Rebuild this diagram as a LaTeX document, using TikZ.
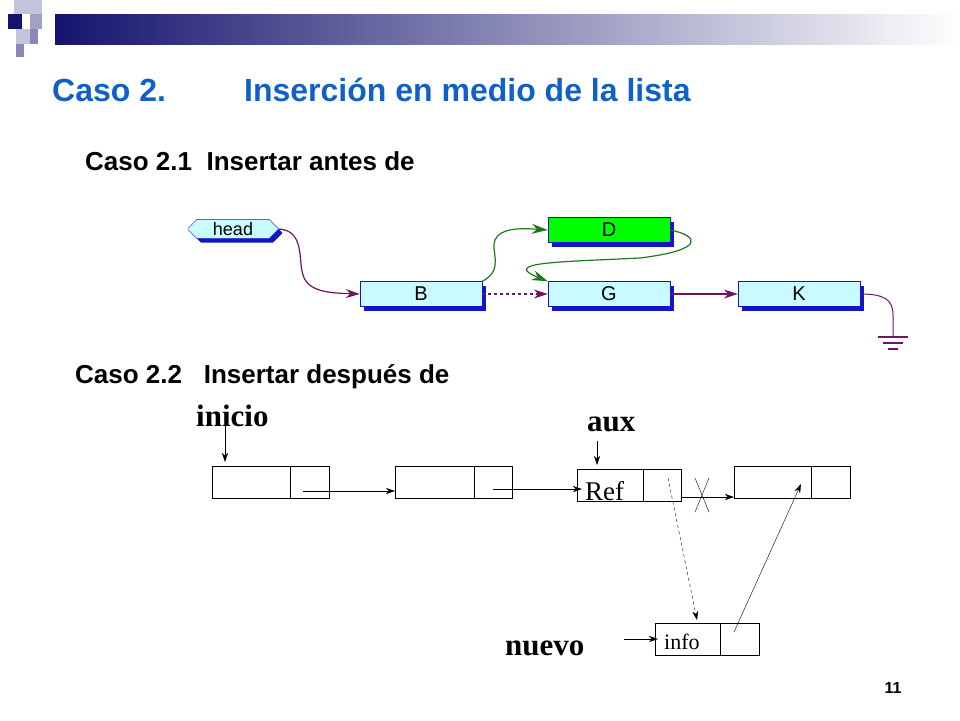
\documentclass[tikz,border=0pt]{standalone}
\usepackage{fontspec}
\setmainfont{Liberation Serif}
\setsansfont{Liberation Sans}
\usetikzlibrary{arrows.meta,shapes.misc,shadows}
\definecolor{ttl}{RGB}{16,96,200}
\definecolor{navy}{RGB}{20,20,110}
\definecolor{cy}{RGB}{200,250,255}
\definecolor{bl}{RGB}{20,20,200}
\definecolor{pur}{RGB}{110,20,100}
\definecolor{gr}{RGB}{30,120,30}
\begin{document}
\begin{tikzpicture}[x=1pt,y=-1pt,
  lbox/.style={draw=bl,fill=cy,minimum width=122pt,minimum height=25pt,inner sep=0pt,font=\sffamily\fontsize{20}{20}\selectfont,
     drop shadow={shadow xshift=4pt,shadow yshift=-4pt,fill=bl,opacity=1}},
  cell/.style={draw,line width=0.8pt,inner sep=0pt,anchor=north west},
  ar/.style={-{Stealth[length=9pt,width=6pt]}},
  pa/.style={pur,line width=1.2pt,-{Stealth[length=14pt,width=9pt]}},
  ga/.style={gr,line width=1.2pt,-{Stealth[length=16pt,width=10pt]}},
  lab/.style={font=\bfseries\fontsize{31}{31}\selectfont,anchor=west,inner sep=0pt}]
\useasboundingbox (0,0) rectangle (960,720);
% header
\shade[left color=navy,right color=white] (55,14) rectangle (960,44);
\fill[navy!25] (14,0) rectangle (28,14);
\fill[navy!25] (28,0) rectangle (42,14);
\fill[navy] (8,14) rectangle (22,29);
\fill[navy!40] (30,14) rectangle (42,29);
\fill[navy!25] (16,29) rectangle (30,44);
\fill[navy!50] (30,29) rectangle (38,44);
\fill[navy!50] (16,44) rectangle (24,57);
% titles
\node[anchor=west,inner sep=0pt,text=ttl,font=\sffamily\bfseries\fontsize{32}{32}\selectfont] (t1) at (52,90) {Caso 2.};
\node[anchor=west,inner sep=0pt,text=ttl,font=\sffamily\bfseries\fontsize{32}{32}\selectfont] (t2) at (244,90) {Inserción en medio de la lista};
\node[anchor=west,inner sep=0pt,font=\sffamily\bfseries\fontsize{26}{26}\selectfont] (s1) at (85,161) {Caso 2.1\ \ Insertar antes de};
\node[anchor=west,inner sep=0pt,font=\sffamily\bfseries\fontsize{26}{26}\selectfont] (s2) at (75,377) {Caso 2.2\ \ \ Insertar después de};
% upper diagram
\node[lbox,chamfered rectangle,chamfered rectangle xsep=6pt,minimum width=90pt,minimum height=18pt,font=\sffamily\fontsize{18}{18}\selectfont] (head) at (233,229) {head};
\node[lbox] (B) at (421,294) {B};
\node[lbox] (G) at (609,294) {G};
\node[lbox] (K) at (799,294) {K};
\node[lbox,fill=green] (D) at (609,230) {D};
\draw[pa] (head.east) .. controls (305,230) and (298,260) .. (303,275) .. controls (308,292) and (330,293) .. (B.west);
\draw[pa,dashed] (B.east) -- (G.west);
\draw[pa] (G.east) -- (K.west);
\coordinate (gnd) at (893,337);
\draw[pur,line width=1pt] (K.east) .. controls (885,294) and (893,300) .. (893,315) -- (gnd);
\draw[pur,line width=1.5pt] (878,337) -- (908,337) (883,343) -- (903,343) (888,349) -- (898,349);
\draw[ga] (B.north east) .. controls (505,270) and (490,250) .. (495,240) .. controls (500,228) and (520,228) .. (D.west);
\draw[ga] (D.east) .. controls (700,236) and (705,250) .. (640,258) .. controls (560,262) and (500,262) .. (G.north west);
% lower diagram
\node[cell,minimum width=117pt,minimum height=32pt] (b1) at (212,466) {};
\draw (290,466) -- (290,498);
\node[cell,minimum width=117pt,minimum height=32pt] (b2) at (395,466) {};
\draw (474,466) -- (474,498);
\node[cell,minimum width=104pt,minimum height=32pt] (b3) at (577,469) {};
\draw (643,469) -- (643,501);
\node[anchor=west,inner sep=0pt,font=\fontsize{27}{27}\selectfont] (ref) at (585,491) {Ref};
\node[cell,minimum width=116pt,minimum height=32pt] (b4) at (734,466) {};
\draw (811,466) -- (811,498);
\node[cell,minimum width=104pt,minimum height=32pt] (b5) at (655,623) {};
\draw (720,623) -- (720,655);
\node[anchor=west,inner sep=0pt,font=\fontsize{22}{22}\selectfont] (info) at (664,642) {info};
\node[lab] (ini) at (196,416) {inicio};
\node[lab] (aux) at (587,424) {aux};
\node[lab] (nue) at (505,648) {nuevo};
\coordinate (p1) at (225,425); \coordinate (q1) at (225,462);
\coordinate (p2) at (597,441); \coordinate (q2) at (597,465);
\draw[ar] (p1) -- (q1);
\draw[ar] (p2) -- (q2);
\coordinate (c1) at (303,491); \coordinate (d1) at (395,491);
\coordinate (c2) at (493,489); \coordinate (d2) at (582,489);
\coordinate (c3) at (681,497); \coordinate (d3) at (734,497);
\draw[ar] (c1) -- (d1);
\draw[ar] (c2) -- (d2);
\draw[ar] (c3) -- (d3);
\draw (695,478) -- (709,512) (709,478) -- (695,512);
\coordinate (e1) at (668,478); \coordinate (f1) at (697,620);
\draw[ar,dashed] (e1) -- (f1);
\coordinate (e2) at (734,632); \coordinate (f2) at (801,484);
\draw[ar] (e2) -- (f2);
\coordinate (e3) at (624,639); \coordinate (f3) at (658,639);
\draw[ar] (e3) -- (f3);
\node[font=\sffamily\bfseries\fontsize{16}{16}\selectfont] (pg) at (893,688) {11};
\end{tikzpicture}
\end{document}
